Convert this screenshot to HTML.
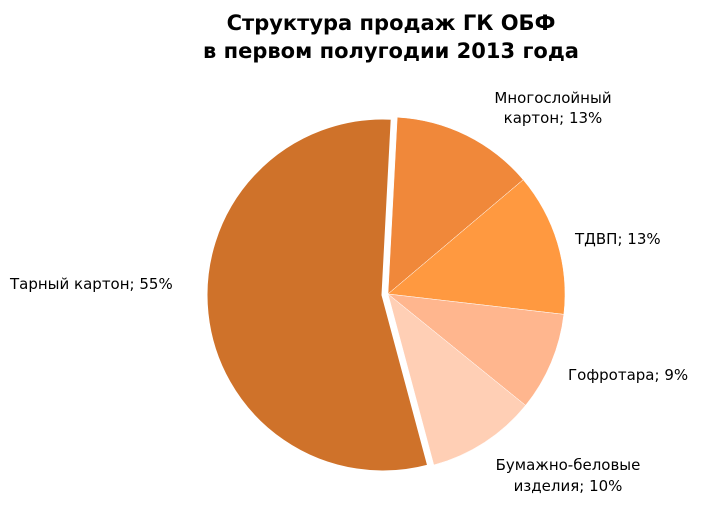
<!DOCTYPE html>
<html><head><meta charset="utf-8"><style>
body{margin:0;background:#fff;width:714px;height:510px;overflow:hidden;font-family:"Liberation Sans","DejaVu Sans",sans-serif}
</style></head><body>
<svg width="714" height="510" xmlns="http://www.w3.org/2000/svg" font-family="DejaVu Sans, Liberation Sans, sans-serif">
<text x="391" y="30" text-anchor="middle" font-size="21" font-weight="bold" fill="#000">Структура продаж ГК ОБФ</text>
<text x="391" y="58" text-anchor="middle" font-size="21" font-weight="bold" fill="#000">в первом полугодии 2013 года</text>
<g id="pie"></g>
<g font-size="15" fill="#000">
<text x="553" y="103" text-anchor="middle">Многослойный</text>
<text x="553" y="123" text-anchor="middle">картон; 13%</text>
<text x="575" y="244">ТДВП; 13%</text>
<text x="568" y="380">Гофротара; 9%</text>
<text x="568" y="470" text-anchor="middle">Бумажно-беловые</text>
<text x="568" y="491" text-anchor="middle">изделия; 10%</text>
<text x="10" y="289">Тарный картон; 55%</text>
</g>
</svg>
<script>
var d=[[13,"#F0883A"],[13,"#FF9940"],[9,"#FFB68E"],[10,"#FFCFB5"],[55,"#CF722A"]];
var cx=388,cy=294,r=177,a=3,g=document.getElementById("pie"),s="";
function p(x,y,t){t=t*Math.PI/180;return [x+r*Math.sin(t),y-r*Math.cos(t)];}
d.forEach(function(e,i){var b=a+e[0]*3.6,x=cx,y=cy;if(i==4){x-=5;y+=1;}
var p1=p(x,y,a),p2=p(x,y,b),l=(b-a)>180?1:0;
s+='<path d="M'+x+','+y+' L'+p1[0]+','+p1[1]+' A'+r+','+r+' 0 '+l+' 1 '+p2[0]+','+p2[1]+' Z" fill="'+e[1]+'" stroke="#fff" stroke-width="'+(i==4?3:0.5)+'"/>';a=b;});
g.innerHTML=s;
</script>
</body></html>
